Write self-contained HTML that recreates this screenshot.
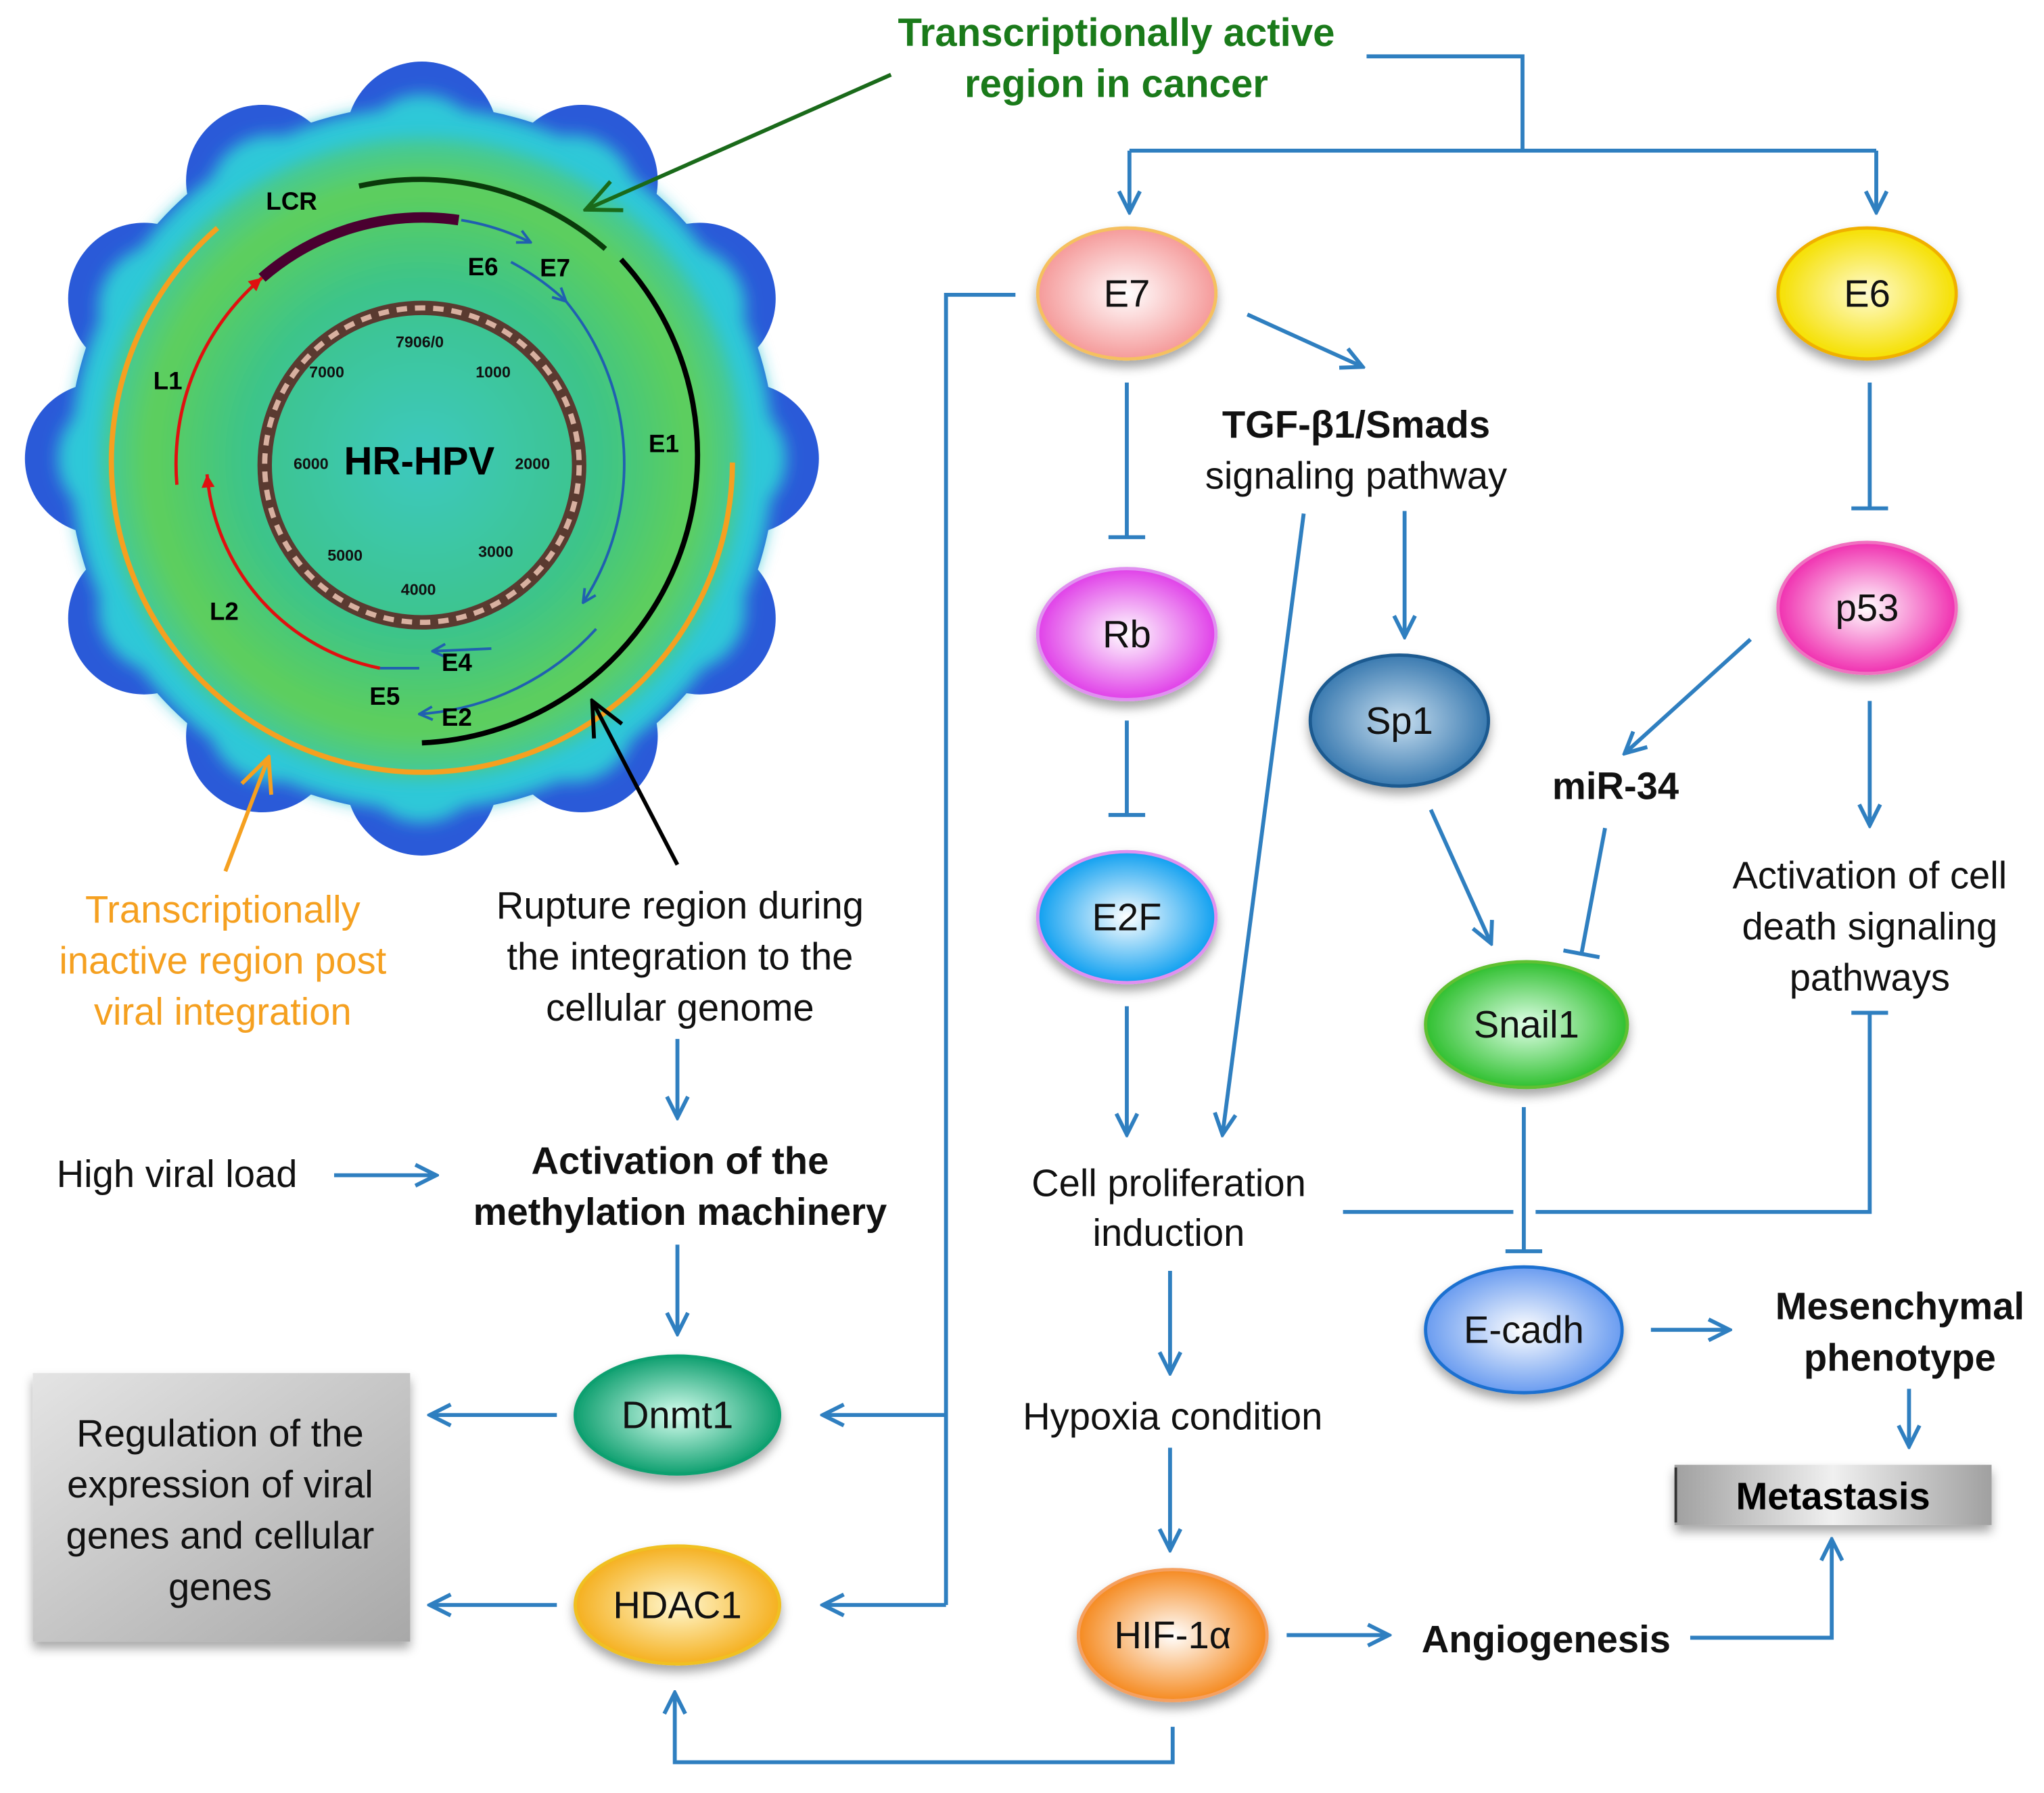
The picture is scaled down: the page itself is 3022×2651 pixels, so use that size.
<!DOCTYPE html>
<html><head><meta charset="utf-8"><style>
html,body{margin:0;padding:0;background:#fff}
svg{display:block}
text{font-family:"Liberation Sans",Arial,sans-serif}
</style></head><body>
<svg width="3022" height="2651" viewBox="0 0 1560 1368.5" xmlns="http://www.w3.org/2000/svg">
<defs>
<radialGradient id="vg" cx="50%" cy="50%" r="50%"><stop offset="0" stop-color="#3ec9c0"/><stop offset="0.55" stop-color="#3cc48a"/><stop offset="0.85" stop-color="#5fcf5a"/><stop offset="1" stop-color="#40c8a0"/></radialGradient>
<radialGradient id="bg" cx="50%" cy="50%" r="50%"><stop offset="0.75" stop-color="#28c8d8"/><stop offset="1" stop-color="#2a52d8"/></radialGradient>
<radialGradient id="gE7"><stop offset="0" stop-color="#fff"/><stop offset="1" stop-color="#f59a9a"/></radialGradient>
<radialGradient id="gE6"><stop offset="0" stop-color="#fffbd0"/><stop offset="1" stop-color="#f5e000"/></radialGradient>
<radialGradient id="gRb"><stop offset="0" stop-color="#fff"/><stop offset="1" stop-color="#e040e8"/></radialGradient>
<radialGradient id="gp53"><stop offset="0" stop-color="#fff"/><stop offset="1" stop-color="#f030b0"/></radialGradient>
<radialGradient id="gSp1"><stop offset="0" stop-color="#c8dff0"/><stop offset="1" stop-color="#3a7ab0"/></radialGradient>
<radialGradient id="gE2F"><stop offset="0" stop-color="#fff"/><stop offset="1" stop-color="#10a0f0"/></radialGradient>
<radialGradient id="gSn"><stop offset="0" stop-color="#e0ffe8"/><stop offset="1" stop-color="#30c030"/></radialGradient>
<radialGradient id="gEc"><stop offset="0" stop-color="#fff"/><stop offset="1" stop-color="#6a9cf0"/></radialGradient>
<radialGradient id="gDn"><stop offset="0" stop-color="#d8fff0"/><stop offset="1" stop-color="#10a070"/></radialGradient>
<radialGradient id="gHD"><stop offset="0" stop-color="#fff8d0"/><stop offset="1" stop-color="#f5b020"/></radialGradient>
<radialGradient id="gHI"><stop offset="0" stop-color="#fff"/><stop offset="1" stop-color="#f58a20"/></radialGradient>
<linearGradient id="box" x1="0" y1="0" x2="1" y2="1"><stop offset="0" stop-color="#e4e4e4"/><stop offset="1" stop-color="#a8a8a8"/></linearGradient>
<linearGradient id="box2" x1="0" y1="0" x2="1" y2="0"><stop offset="0" stop-color="#a0a0a0"/><stop offset="0.5" stop-color="#f0f0f0"/><stop offset="1" stop-color="#a0a0a0"/></linearGradient>
<marker id="a" viewBox="0 0 20 20" refX="18" refY="10" markerWidth="20" markerHeight="20" markerUnits="userSpaceOnUse" orient="auto"><path d="M2 2 L18 10 L2 18" fill="none" stroke="#2f7fc0" stroke-width="3"/></marker>
<marker id="t" viewBox="0 0 6 30" refX="3" refY="15" markerWidth="6" markerHeight="30" markerUnits="userSpaceOnUse" orient="auto"><path d="M3 1 V29" stroke="#2f7fc0" stroke-width="3"/></marker>
<marker id="ag" viewBox="0 0 30 30" refX="28" refY="15" markerWidth="30" markerHeight="30" markerUnits="userSpaceOnUse" orient="auto"><path d="M2 3 L28 15 L2 27" fill="none" stroke="#1a6a1a" stroke-width="3"/></marker>
<marker id="ak" viewBox="0 0 30 30" refX="28" refY="15" markerWidth="30" markerHeight="30" markerUnits="userSpaceOnUse" orient="auto"><path d="M2 3 L28 15 L2 27" fill="none" stroke="#000" stroke-width="3"/></marker>
<marker id="ao" viewBox="0 0 30 30" refX="28" refY="15" markerWidth="30" markerHeight="30" markerUnits="userSpaceOnUse" orient="auto"><path d="M2 3 L28 15 L2 27" fill="none" stroke="#f5a020" stroke-width="3"/></marker>
<marker id="sm" viewBox="0 0 12 12" refX="11" refY="6" markerWidth="12" markerHeight="12" markerUnits="userSpaceOnUse" orient="auto"><path d="M1 1 L11 6 L1 11" fill="none" stroke="#2060b0" stroke-width="2"/></marker>
<marker id="sr" viewBox="0 0 12 12" refX="11" refY="6" markerWidth="12" markerHeight="12" markerUnits="userSpaceOnUse" orient="auto"><path d="M1 1 L11 6 L1 11 Z" fill="#e01010"/></marker>
<filter id="sh" x="-20%" y="-20%" width="140%" height="150%"><feDropShadow dx="0" dy="5" stdDeviation="4" flood-opacity="0.35"/></filter>
<filter id="bl"><feGaussianBlur stdDeviation="6"/></filter>
</defs>

<!-- virus -->
<g>
<g fill="#2a5ad8">
<circle cx="322" cy="350" r="270"/>
<circle cx="567" cy="350" r="58"/><circle cx="534" cy="472" r="58"/><circle cx="444" cy="562" r="58"/><circle cx="322" cy="595" r="58"/><circle cx="200" cy="562" r="58"/><circle cx="110" cy="472" r="58"/><circle cx="77" cy="350" r="58"/><circle cx="110" cy="228" r="58"/><circle cx="200" cy="138" r="58"/><circle cx="322" cy="105" r="58"/><circle cx="444" cy="138" r="58"/><circle cx="534" cy="228" r="58"/>
</g>
<g fill="#2ec8d8" filter="url(#bl)">
<circle cx="322" cy="350" r="268"/>
<circle cx="552" cy="350" r="48"/><circle cx="521" cy="465" r="48"/><circle cx="437" cy="549" r="48"/><circle cx="322" cy="580" r="48"/><circle cx="207" cy="549" r="48"/><circle cx="123" cy="465" r="48"/><circle cx="92" cy="350" r="48"/><circle cx="123" cy="235" r="48"/><circle cx="207" cy="151" r="48"/><circle cx="322" cy="120" r="48"/><circle cx="437" cy="151" r="48"/><circle cx="521" cy="235" r="48"/>
</g>
<circle cx="322" cy="350" r="245" fill="url(#vg)" filter="url(#bl)"/>
<path d="M274 142 A215 215 0 0 1 462 190" fill="none" stroke="#0a3a0a" stroke-width="4"/>
<path d="M474 198 A220 220 0 0 1 322 567" fill="none" stroke="#000" stroke-width="4"/>
<path d="M166 174 A237 237 0 1 0 559 353" fill="none" stroke="#f5a020" stroke-width="4"/>
<path d="M200 212 A187 187 0 0 1 350 168" fill="none" stroke="#4a0030" stroke-width="8"/>
<path d="M135 370 A187 187 0 0 1 200 212" fill="none" stroke="#e01010" stroke-width="2.5" marker-end="url(#sr)"/>
<path d="M290 510 A165 165 0 0 1 158 362" fill="none" stroke="#e01010" stroke-width="2.5" marker-end="url(#sr)"/>
<path d="M352 168 A187 187 0 0 1 405 185" fill="none" stroke="#2060b0" stroke-width="2" marker-end="url(#sm)"/>
<path d="M390 200 A195 195 0 0 1 432 230" fill="none" stroke="#2060b0" stroke-width="2" marker-end="url(#sm)"/>
<path d="M432 230 A195 195 0 0 1 445 460" fill="none" stroke="#2060b0" stroke-width="2" marker-end="url(#sm)"/>
<path d="M455 480 A200 200 0 0 1 320 545" fill="none" stroke="#2060b0" stroke-width="2" marker-end="url(#sm)"/>
<path d="M375 495 L330 497" fill="none" stroke="#2060b0" stroke-width="2" marker-end="url(#sm)"/>
<path d="M320 510 L290 510" fill="none" stroke="#2060b0" stroke-width="2"/>
<circle cx="322" cy="355" r="120" fill="none" stroke="#5a3a30" stroke-width="11"/>
<circle cx="322" cy="355" r="120" fill="none" stroke="#d8b0a0" stroke-width="4" stroke-dasharray="8 6"/>
<g font-size="12" font-weight="bold" fill="#111">
<text x="302" y="265">7906/0</text><text x="236" y="288">7000</text><text x="363" y="288">1000</text><text x="224" y="358">6000</text><text x="393" y="358">2000</text><text x="250" y="428">5000</text><text x="365" y="425">3000</text><text x="306" y="454">4000</text>
</g>
<text x="320" y="362" font-size="30" font-weight="bold" text-anchor="middle">HR-HPV</text>
<g font-size="19" font-weight="bold">
<text x="203" y="160">LCR</text><text x="357" y="210">E6</text><text x="412" y="211">E7</text><text x="495" y="345">E1</text><text x="117" y="297">L1</text><text x="160" y="473">L2</text><text x="337" y="512">E4</text><text x="282" y="538">E5</text><text x="337" y="554">E2</text>
</g>
</g>

<!-- labels around virus -->
<line x1="680" y1="57" x2="447" y2="160" stroke="#1a6a1a" stroke-width="3" marker-end="url(#ag)"/>
<line x1="172" y1="665" x2="205" y2="578" stroke="#f5a020" stroke-width="3" marker-end="url(#ao)"/>
<line x1="517" y1="660" x2="452" y2="535" stroke="#000" stroke-width="3" marker-end="url(#ak)"/>
<g font-size="30" font-weight="bold" fill="#1a7a1a" text-anchor="middle">
<text x="852" y="35">Transcriptionally active</text><text x="852" y="74">region in cancer</text>
</g>
<g font-size="29" fill="#f5a020" text-anchor="middle">
<text x="170" y="704">Transcriptionally</text><text x="170" y="743">inactive region post</text><text x="170" y="782">viral integration</text>
</g>
<g font-size="29" text-anchor="middle" fill="#111">
<text x="519" y="701">Rupture region during</text><text x="519" y="740">the integration to the</text><text x="519" y="779">cellular genome</text>
<text x="135" y="906">High viral load</text>
<text x="1035" y="373">signaling pathway</text>
<text x="892" y="913">Cell proliferation</text><text x="892" y="951">induction</text>
<text x="895" y="1091">Hypoxia condition</text>
<text x="1427" y="678">Activation of cell</text><text x="1427" y="717">death signaling</text><text x="1427" y="756">pathways</text>
</g>
<g font-size="29" font-weight="bold" text-anchor="middle" fill="#111">
<text x="519" y="896">Activation of the</text><text x="519" y="935">methylation machinery</text>
<text x="1035" y="334">TGF-β1/Smads</text>
<text x="1233" y="610">miR-34</text>
<text x="1450" y="1007">Mesenchymal</text><text x="1450" y="1046">phenotype</text>
<text x="1180" y="1261">Angiogenesis</text>
</g>

<!-- boxes -->
<rect x="25" y="1048" width="288" height="205" fill="url(#box)" filter="url(#sh)"/>
<g font-size="29" text-anchor="middle" fill="#111"><text x="168" y="1104">Regulation of the</text><text x="168" y="1143">expression of viral</text><text x="168" y="1182">genes and cellular</text><text x="168" y="1221">genes</text></g>
<rect x="1278" y="1118" width="242" height="46" fill="url(#box2)" filter="url(#sh)"/>
<line x1="1279" y1="1120" x2="1279" y2="1162" stroke="#333" stroke-width="2"/>
<text x="1399" y="1152" font-size="29" font-weight="bold" text-anchor="middle">Metastasis</text>

<!-- connectors -->
<g fill="none" stroke="#2f7fc0" stroke-width="3">
<path d="M1043 43 H1162 V115"/><path d="M862 115 H1432"/>
<path d="M862 115 V162" marker-end="url(#a)"/><path d="M1432 115 V162" marker-end="url(#a)"/>
<path d="M952 240 L1040 280" marker-end="url(#a)"/>
<path d="M860 292 V410" marker-end="url(#t)"/>
<path d="M860 550 V622" marker-end="url(#t)"/>
<path d="M860 768 V866" marker-end="url(#a)"/>
<path d="M1072 390 V486" marker-end="url(#a)"/>
<path d="M995 392 L933 866" marker-end="url(#a)"/>
<path d="M1427 292 V388" marker-end="url(#t)"/>
<path d="M1336 488 L1240 575" marker-end="url(#a)"/>
<path d="M1427 535 V630" marker-end="url(#a)"/>
<path d="M1092 618 L1138 720" marker-end="url(#a)"/>
<path d="M1225 632 L1207 728" marker-end="url(#t)"/>
<path d="M1163 845 V955" marker-end="url(#t)"/>
<path d="M1025 925 H1155"/><path d="M1172 925 H1427 V773" marker-end="url(#t)"/>
<path d="M1260 1015 H1320" marker-end="url(#a)"/>
<path d="M1457 1060 V1104" marker-end="url(#a)"/>
<path d="M1290 1250 H1398 V1175" marker-end="url(#a)"/>
<path d="M982 1248 H1060" marker-end="url(#a)"/>
<path d="M893 970 V1048" marker-end="url(#a)"/>
<path d="M893 1105 V1183" marker-end="url(#a)"/>
<path d="M895 1318 V1345 H515 V1292" marker-end="url(#a)"/>
<path d="M775 225 H722 V1225"/>
<path d="M722 1080 H628" marker-end="url(#a)"/><path d="M722 1225 H628" marker-end="url(#a)"/>
<path d="M425 1080 H328" marker-end="url(#a)"/><path d="M425 1225 H328" marker-end="url(#a)"/>
<path d="M255 897 H333" marker-end="url(#a)"/>
<path d="M517 793 V853" marker-end="url(#a)"/>
<path d="M517 950 V1018" marker-end="url(#a)"/>
</g>

<!-- nodes -->
<g filter="url(#sh)" stroke-width="2.5">
<ellipse cx="860" cy="224" rx="68" ry="50" fill="url(#gE7)" stroke="#f5c060"/>
<ellipse cx="1425" cy="224" rx="68" ry="50" fill="url(#gE6)" stroke="#f0b000"/>
<ellipse cx="860" cy="484" rx="68" ry="50" fill="url(#gRb)" stroke="#e090f0"/>
<ellipse cx="1425" cy="464" rx="68" ry="50" fill="url(#gp53)" stroke="#f070c0"/>
<ellipse cx="1068" cy="550" rx="68" ry="50" fill="url(#gSp1)" stroke="#1a5a90"/>
<ellipse cx="860" cy="700" rx="68" ry="50" fill="url(#gE2F)" stroke="#e090f0"/>
<ellipse cx="1165" cy="782" rx="77" ry="48" fill="url(#gSn)" stroke="#60c030"/>
<ellipse cx="1163" cy="1015" rx="75" ry="48" fill="url(#gEc)" stroke="#1a70d0"/>
<ellipse cx="517" cy="1080" rx="78" ry="45" fill="url(#gDn)" stroke="#10a070"/>
<ellipse cx="517" cy="1225" rx="78" ry="45" fill="url(#gHD)" stroke="#f0c020"/>
<ellipse cx="895" cy="1248" rx="72" ry="50" fill="url(#gHI)" stroke="#f5a060"/>
</g>
<g font-size="29" text-anchor="middle" fill="#111">
<text x="860" y="234">E7</text><text x="1425" y="234">E6</text><text x="860" y="494">Rb</text><text x="1425" y="474">p53</text><text x="1068" y="560">Sp1</text><text x="860" y="710">E2F</text><text x="1165" y="792">Snail1</text><text x="1163" y="1025">E-cadh</text><text x="517" y="1090">Dnmt1</text><text x="517" y="1235">HDAC1</text><text x="895" y="1258">HIF-1α</text>
</g>
</svg>
</body></html>
